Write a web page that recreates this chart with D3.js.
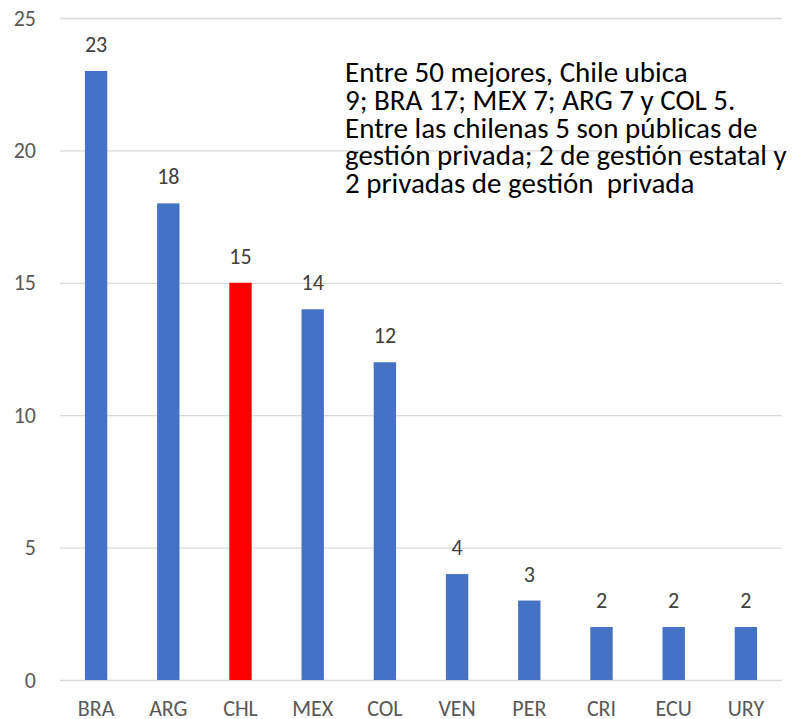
<!DOCTYPE html>
<html>
<head>
<meta charset="utf-8">
<script src="https://cdn.jsdelivr.net/npm/d3@7"></script>
<style>
  body { margin: 0; background: #fff; }
  text { font-family: Carlito, "Open Sans", "Noto Sans", sans-serif; }
</style>
</head>
<body>
<div id="chart"></div>
<script>
// data
const countries = ["BRA", "ARG", "CHL", "MEX", "COL", "VEN", "PER", "CRI", "ECU", "URY"];
const counts = [23, 18, 15, 14, 12, 4, 3, 2, 2, 2];
const yTicks = [0, 5, 10, 15, 20, 25];
const highlight = "CHL";
const note = [
  "Entre 50 mejores, Chile ubica",
  "9; BRA 17; MEX 7; ARG 7 y COL 5.",
  "Entre las chilenas 5 son públicas de",
  "gestión privada; 2 de gestión estatal y",
  "2 privadas de gestión  privada"
];

const svgWidth = 797, svgHeight = 719;
const plotLeft = 60, plotRight = 782, plotTop = 18, plotBottom = 680;

const svg = d3.select("#chart").append("svg")
    .attr("width", svgWidth)
    .attr("height", svgHeight);

let data = countries.map((c, i) => ({ name: c, value: counts[i] }));

let xScale = d3.scaleBand()
    .domain(countries)
    .range([plotLeft, plotRight])
    .paddingInner(0.69)
    .paddingOuter(0.345);

let yScale = d3.scaleLinear()
    .domain([0, 25])
    .range([plotBottom, plotTop]);

// gridlines + y labels
let yAxis = d3.axisLeft(yScale)
    .tickValues(yTicks)
    .tickSize(-(plotRight - plotLeft))
    .tickPadding(24);

let gy = svg.append("g")
    .attr("transform", "translate(" + plotLeft + ",0)")
    .call(yAxis);
gy.select(".domain").remove();
gy.selectAll(".tick line").attr("stroke", "#d9d9d9").attr("stroke-width", 1.3);
gy.selectAll(".tick text")
    .attr("fill", "#595959")
    .style("font-size", "22px");

// x labels
let xAxis = d3.axisBottom(xScale).tickSize(0).tickPadding(20);
let gx = svg.append("g")
    .attr("transform", "translate(0," + plotBottom + ")")
    .call(xAxis);
gx.select(".domain").remove();
gx.selectAll(".tick text")
    .attr("fill", "#595959")
    .style("font-size", "22px");

// bars
svg.selectAll(".bar")
    .data(data)
    .enter()
    .append("rect")
    .attr("class", "bar")
    .attr("x", d => xScale(d.name))
    .attr("y", d => yScale(d.value))
    .attr("width", xScale.bandwidth())
    .attr("height", d => yScale(0) - yScale(d.value))
    .attr("fill", d => d.name === highlight ? "#ff0000" : "#4472c4");

// value labels
svg.selectAll(".val")
    .data(data)
    .enter()
    .append("text")
    .attr("class", "val")
    .attr("x", d => xScale(d.name) + xScale.bandwidth() / 2)
    .attr("y", d => yScale(d.value) - 19)
    .attr("text-anchor", "middle")
    .attr("fill", "#404040")
    .style("font-size", "22px")
    .text(d => d.value);

// annotation
svg.append("g").selectAll("text")
    .data(note)
    .enter()
    .append("text")
    .attr("x", 345)
    .attr("y", (d, i) => 82 + i * 27.8)
    .attr("fill", "#000")
    .style("font-size", "29px")
    .style("white-space", "pre")
    .text(d => d);
</script>
</body>
</html>
